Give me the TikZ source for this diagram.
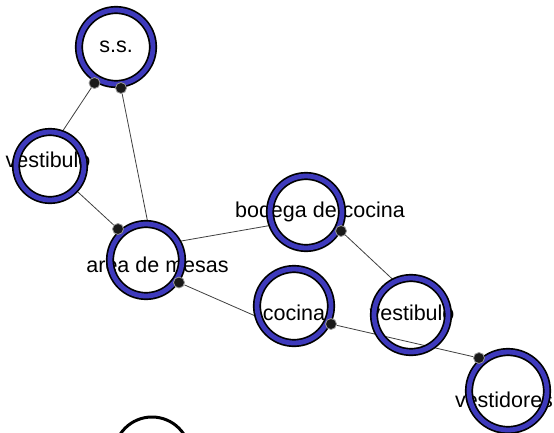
\documentclass[tikz,border=0pt]{standalone}
\usepackage{fontspec}
\setmainfont{Liberation Sans}
\usetikzlibrary{backgrounds}
\definecolor{ringblue}{RGB}{62,58,188}
\begin{document}
\begin{tikzpicture}[x=1pt,y=-1pt,
  ring/.style={circle, draw=black, line width=1.7pt, double=ringblue, double distance=4.8pt, inner sep=0pt, minimum size=#1},
  lbl/.style={anchor=base, inner sep=0pt, font=\fontsize{21.5}{25}\selectfont},
  edge/.style={draw=black!75, line width=0.8pt},
  blob/.style={circle, fill=black!90, draw=black!40, line width=0.8pt, inner sep=0pt, minimum size=11pt}]
\useasboundingbox (0,0) rectangle (554,432);
\clip (0,0) rectangle (554,432);
% rings
\node[ring=74pt] (ss) at (116,47) {};
\node[ring=68pt] (vL) at (50,166) {};
\node[ring=72pt] (area) at (146,260) {};
\node[ring=72pt] (bod) at (306,212) {};
\node[ring=74pt] (coc) at (294,306) {};
\node[ring=74pt] (vR) at (411,315) {};
\node[ring=78pt] (vest) at (508,391) {};
\node[circle, draw=black, line width=3pt, minimum size=76pt, inner sep=0pt] (extra) at (152,455) {};
% blobs
\node[blob] (b1) at (94.5,83) {};
\node[blob] (b2) at (121,88) {};
\node[blob] (b3) at (118,229) {};
\node[blob] (b4) at (179,282.5) {};
\node[blob] (b5) at (341,231) {};
\node[blob] (b6) at (331,324) {};
\node[blob] (b7) at (479,358) {};
\begin{pgfonlayer}{background}
\fill[white] (0,0) rectangle (554,432);
\draw[edge] (b1) -- (vL.71);
\draw[edge] (b2) -- (area.87);
\draw[edge] (vL.-43) -- (b3);
\draw[edge] (area.30) -- (bod.201);
\draw[edge] (b4) -- (coc.197);
\draw[edge] (b5) -- (vR.116);
\draw[edge] (b6) -- (b7);
\node[lbl] (tss) at (116,52) {s.s.};
\node[lbl] (tvL) at (48,167) {vestibulo};
\node[lbl] (tarea) at (157.5,272) {area de mesas};
\node[lbl] (tbod) at (320,217) {bodega de cocina};
\node[lbl] (tcoc) at (294,320) {cocina};
\node[lbl] (tvR) at (412,320) {vestibulo};
\node[lbl] (tvest) at (504,407) {vestidores};
\end{pgfonlayer}
\end{tikzpicture}
\end{document}
